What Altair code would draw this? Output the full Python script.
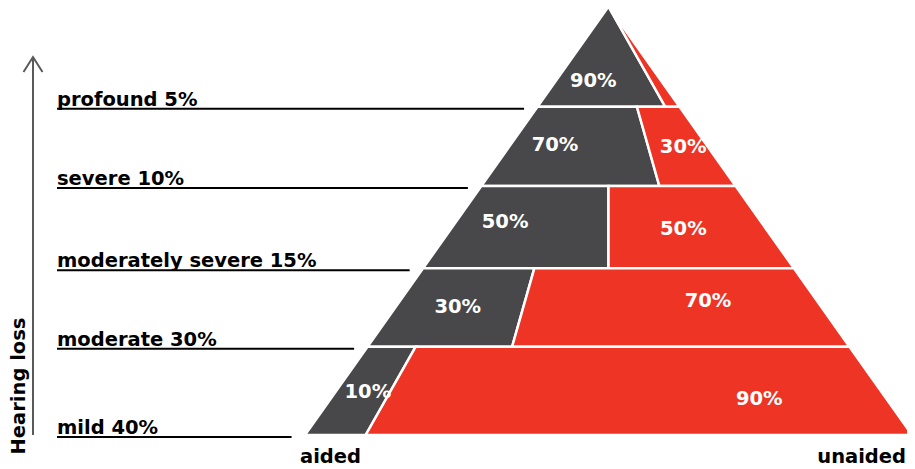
import altair as alt
import pandas as pd

# ---------------- data ----------------
levels = ["profound", "severe", "moderately severe", "moderate", "mild"]
prevalence = [5, 10, 15, 30, 40]
aided_pct = [90, 70, 50, 30, 10]
unaided_pct = [10, 30, 50, 70, 90]
label_unaided = [False, True, True, True, True]
band_edges = [0.0, 0.234, 0.419, 0.611, 0.794, 1.0]  # fraction of pyramid height from apex
axis_title = "Hearing loss"
side_labels = ["aided", "unaided"]

# ---------------- layout ----------------
W, H = 899, 461
APEX_X, APEX_Y = 600.5, -1.5
PYR_H, HALF_BASE = 428.5, 303.5
GRAY, RED = "#48484a", "#ee3425"
FONT, FS = "DejaVu Sans", 19.5
LABEL_X = 49
LINE_GAP = 12
ARROW_X, ARROW_TOP, ARROW_HEAD = 25, 49, 15
nudge_aided = [(-10, 24), (-24, -1.4), (-27, -4.9), (-2, -1), (5, 1)]
nudge_unaided = [(0, 0), (5, 0.6), (-4, 2.1), (37, -7), (123, 8)]


def row_at(t):
    y = APEX_Y + t * PYR_H
    hw = t * HALF_BASE
    return y, APEX_X - hw, APEX_X + hw


def edges_at_y(y):
    return row_at((y - APEX_Y) / PYR_H)[1:]


poly_rows, pct_rows, line_rows, text_rows = [], [], [], []
for i, lev in enumerate(levels):
    for t in (band_edges[i], band_edges[i + 1]):
        y, l, r = row_at(t)
        s = l + (r - l) * aided_pct[i] / 100
        poly_rows.append(dict(poly=f"{i}a", part="aided", y=y, x=l, x2=s))
        poly_rows.append(dict(poly=f"{i}u", part="unaided", y=y, x=s, x2=r))
    y_mid = APEX_Y + (band_edges[i] + band_edges[i + 1]) / 2 * PYR_H
    # aided label
    ya = y_mid + nudge_aided[i][1]
    l, r = edges_at_y(ya)
    s = l + (r - l) * aided_pct[i] / 100
    pct_rows.append(dict(x=(l + s) / 2 + nudge_aided[i][0], y=ya, text=f"{aided_pct[i]}%"))
    if label_unaided[i]:
        yu = y_mid + nudge_unaided[i][1]
        l, r = edges_at_y(yu)
        s = l + (r - l) * aided_pct[i] / 100
        pct_rows.append(dict(x=(s + r) / 2 + nudge_unaided[i][0], y=yu, text=f"{unaided_pct[i]}%"))
    # left labels
    ly = APEX_Y + band_edges[i + 1] * PYR_H + 2
    le, _ = edges_at_y(ly)
    line_rows.append(dict(x=LABEL_X, x2=le - LINE_GAP, y=ly))
    text_rows.append(dict(x=LABEL_X, y=ly - 3, text=f"{lev} {prevalence[i]}%"))

poly_df = pd.DataFrame(poly_rows)
pct_df = pd.DataFrame(pct_rows)
line_df = pd.DataFrame(line_rows)
text_df = pd.DataFrame(text_rows)

XS = alt.Scale(domain=[0, W], nice=False, zero=False)
YS = alt.Scale(domain=[0, H], nice=False, zero=False, reverse=True)


def X(f):
    return alt.X(f, scale=XS, axis=None, stack=None)


def Y(f):
    return alt.Y(f, scale=YS, axis=None)


areas = alt.Chart(poly_df).mark_area(
    orient="horizontal", stroke="white", strokeWidth=2.5
).encode(
    y=Y("y:Q"),
    x=X("x:Q"),
    x2="x2:Q",
    color=alt.Color("part:N", scale=alt.Scale(domain=side_labels, range=[GRAY, RED]), legend=None),
    detail="poly:N",
)

pcts = alt.Chart(pct_df).mark_text(
    font=FONT, fontSize=FS, fontWeight="bold", color="white", align="center", baseline="middle"
).encode(x=X("x:Q"), y=Y("y:Q"), text="text:N")

rules = alt.Chart(line_df).mark_rule(color="black", strokeWidth=2).encode(
    x=X("x:Q"), x2="x2:Q", y=Y("y:Q")
)

lev_text = alt.Chart(text_df).mark_text(
    font=FONT, fontSize=FS, fontWeight="bold", color="black", align="left", baseline="alphabetic"
).encode(x=X("x:Q"), y=Y("y:Q"), text="text:N")

# arrow
base_y = APEX_Y + PYR_H
shaft_df = pd.DataFrame([dict(x=ARROW_X, y=ARROW_TOP, y2=base_y)])
shaft = alt.Chart(shaft_df).mark_rule(color="#5a5a5a", strokeWidth=2).encode(
    x=X("x:Q"), y=Y("y:Q"), y2="y2:Q"
)
head_df = pd.DataFrame([
    dict(o=0, x=ARROW_X - 9.5, y=ARROW_TOP + ARROW_HEAD),
    dict(o=1, x=ARROW_X, y=ARROW_TOP),
    dict(o=2, x=ARROW_X + 9.5, y=ARROW_TOP + ARROW_HEAD),
])
head = alt.Chart(head_df).mark_line(color="#5a5a5a", strokeWidth=2).encode(
    x=X("x:Q"), y=Y("y:Q"), order="o:Q"
)

title_df = pd.DataFrame([dict(x=17, y=378, text=axis_title)])
title = alt.Chart(title_df).mark_text(
    font=FONT, fontSize=FS, fontWeight="bold", color="black", angle=270,
    align="center", baseline="alphabetic"
).encode(x=X("x:Q"), y=Y("y:Q"), text="text:N")

_, bl, br = row_at(1.0)
aided_df = pd.DataFrame([dict(x=bl - 5, y=455, text=side_labels[0])])
unaided_df = pd.DataFrame([dict(x=min(br, W - 1), y=455, text=side_labels[1])])
aided_t = alt.Chart(aided_df).mark_text(
    font=FONT, fontSize=FS, fontWeight="bold", color="black", align="left", baseline="alphabetic"
).encode(x=X("x:Q"), y=Y("y:Q"), text="text:N")
unaided_t = alt.Chart(unaided_df).mark_text(
    font=FONT, fontSize=FS, fontWeight="bold", color="black", align="right", baseline="alphabetic"
).encode(x=X("x:Q"), y=Y("y:Q"), text="text:N")

chart = alt.layer(
    areas, pcts, rules, lev_text, shaft, head, title, aided_t, unaided_t
).properties(
    width=W, height=H, padding=0, autosize=alt.AutoSizeParams(type="none")
).configure_view(stroke=None)

chart.save("out.html", embed_options={"renderer": "svg", "actions": False})
